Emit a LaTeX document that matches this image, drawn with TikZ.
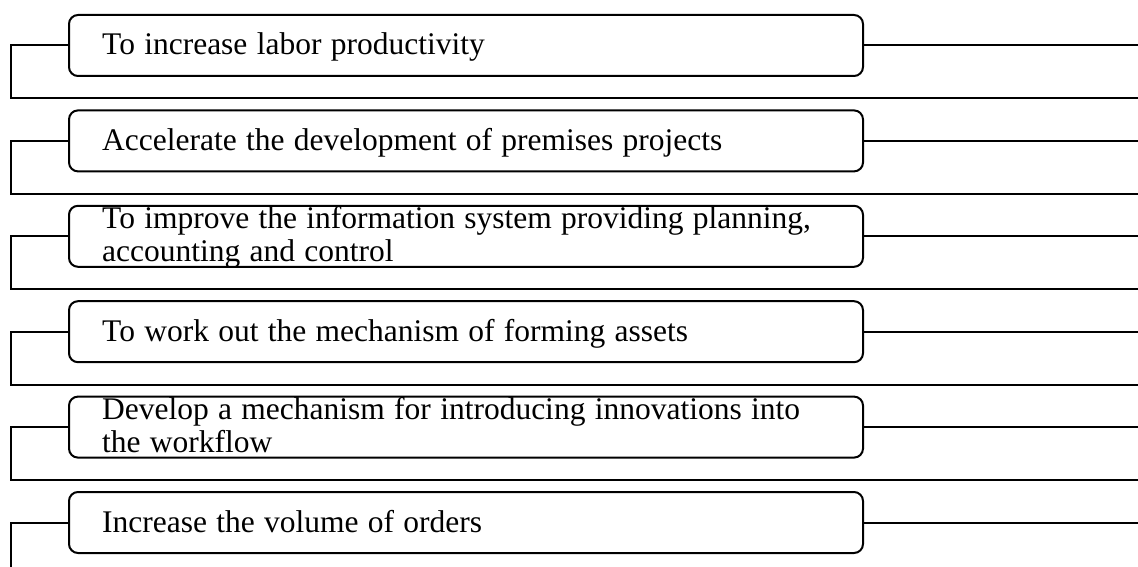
\documentclass[tikz,border=0pt]{standalone}
\usepackage{fontspec}
\setmainfont{Liberation Serif}[WordSpace=1.18]
\begin{document}
\begin{tikzpicture}[x=1pt,y=-1pt,
  goalbox/.style={draw,line width=2pt,rounded corners=9pt,minimum width=794pt,minimum height=61pt,inner sep=0pt,outer sep=0pt,anchor=north west},
  goaltext/.style={anchor=base west,inner sep=0pt,font=\fontsize{31.5}{33}\selectfont},
  link/.style={line width=2pt}]
\useasboundingbox (0,0) rectangle (1138,567);
% boxes (outer border centre lines from top 15 to bottom 76)
\node[goalbox] (b1) at (69,15) {};
\node[goalbox] (b2) at (69,110.4) {};
\node[goalbox] (b3) at (69,205.8) {};
\node[goalbox] (b4) at (69,301.2) {};
\node[goalbox] (b5) at (69,396.6) {};
\node[goalbox] (b6) at (69,492) {};
% texts
\node[goaltext] (t1) at (102,55) {To increase labor productivity};
\node[goaltext] (t2) at (102,150.4) {Accelerate the development of premises projects};
\node[goaltext] (t3a) at (102,228.8) {To improve the information system providing planning,};
\node[goaltext] (t3b) at (102,261.8) {accounting and control};
\node[goaltext] (t4) at (102,341.2) {To work out the mechanism of forming assets};
\node[goaltext] (t5a) at (102,419.6) {Develop a mechanism for introducing innovations into};
\node[goaltext] (t5b) at (102,452.6) {the workflow};
\node[goaltext] (t6) at (102,532) {Increase the volume of orders};
% left connector corners and line ends
\coordinate (x0) at (11,0);
\coordinate (x1) at (1138,0);
\coordinate (d1) at (11,98.5);   \coordinate (e1) at (1138,98.5);
\coordinate (d2) at (11,193.9);  \coordinate (e2) at (1138,193.9);
\coordinate (d3) at (11,289.3);  \coordinate (e3) at (1138,289.3);
\coordinate (d4) at (11,384.7);  \coordinate (e4) at (1138,384.7);
\coordinate (d5) at (11,479.6);  \coordinate (e5) at (1138,479.6);
\coordinate (d6) at (11,567);
\foreach \i in {1,...,6}{
  \coordinate (l\i) at (x0 |- b\i.west);
  \coordinate (r\i) at (x1 |- b\i.east);
  \draw[link] (b\i.east) -- (r\i);
}
\foreach \i in {1,...,5}{
  \draw[link] (b\i.west) -- (l\i) -- (d\i) -- (e\i);
}
\draw[link] (b6.west) -- (l6) -- (d6);
\end{tikzpicture}
\end{document}
